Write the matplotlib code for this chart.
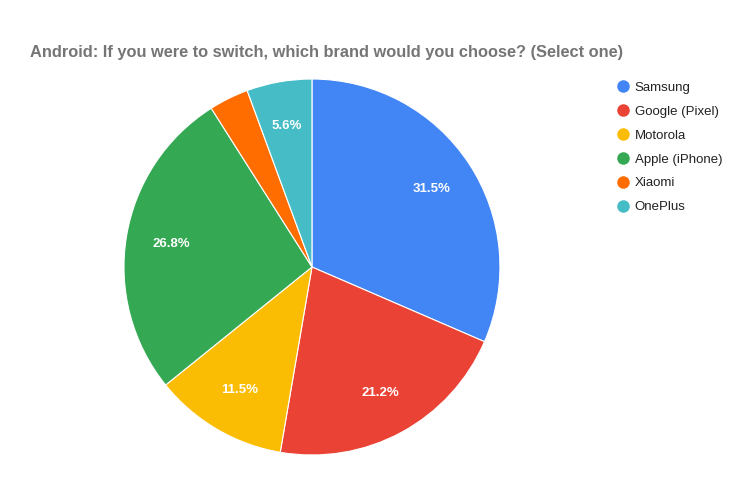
import matplotlib
matplotlib.use("Agg")
import matplotlib.pyplot as plt
from matplotlib.lines import Line2D

plt.rcParams['font.family'] = ['Liberation Sans', 'DejaVu Sans']

categories = ["Samsung", "Google (Pixel)", "Motorola", "Apple (iPhone)", "Xiaomi", "OnePlus"]
values = [31.5, 21.2, 11.5, 26.8, 3.4, 5.6]
colors = ["#4285F4", "#EA4335", "#FBBC04", "#34A853", "#FF6D01", "#46BDC6"]
title = "Android: If you were to switch, which brand would you choose? (Select one)"

fig = plt.figure(figsize=(7.5, 5), dpi=100)
ax = fig.add_axes([0.1653, 0.09, 0.5013, 0.752])

def fmt(p):
    return f"{p:.1f}%" if p >= 5 else ""

wedges, texts, autotexts = ax.pie(
    values, colors=colors, startangle=90, counterclock=False,
    autopct=fmt, pctdistance=0.76, radius=1.0,
    wedgeprops=dict(edgecolor="white", linewidth=0.8),
    textprops=dict(color="white", fontsize=9.5, fontweight="bold"))
ax.set_xlim(-1, 1)
ax.set_ylim(-1, 1)
ax.set_aspect("equal")

fig.text(30/750, 1-53/500, title, fontsize=11.8, fontweight="bold",
         color="#757575", ha="left", va="center")

handles = [Line2D([0], [0], marker="o", color="none", markerfacecolor=c,
                  markeredgecolor=c, markersize=8) for c in colors]
leg = fig.legend(handles, categories, loc="upper left",
                 bbox_to_anchor=(603/750, 1-70/500), frameon=False,
                 fontsize=9.5, labelspacing=0.88, handletextpad=0.3,
                 handlelength=1.2, labelcolor="#222222")

fig.savefig("out.png", dpi=100, facecolor="white")
